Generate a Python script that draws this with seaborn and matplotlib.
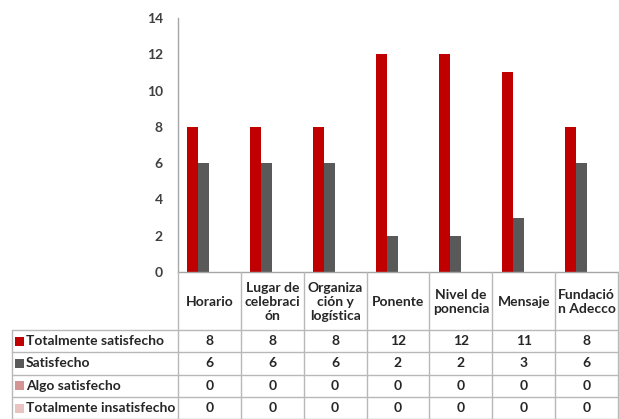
import matplotlib
matplotlib.use("Agg")
import matplotlib.pyplot as plt
from matplotlib.lines import Line2D
from matplotlib.patches import Rectangle
from matplotlib.transforms import blended_transform_factory
import seaborn as sns
import pandas as pd

categories = ["Horario", "Lugar de\ncelebraci\nón", "Organiza\nción y\nlogística",
              "Ponente", "Nivel de\nponencia", "Mensaje", "Fundació\nn Adecco"]
series = ["Totalmente satisfecho", "Satisfecho", "Algo satisfecho", "Totalmente insatisfecho"]
totalmente_satisfecho = [8, 8, 8, 12, 12, 11, 8]
satisfecho = [6, 6, 6, 2, 2, 3, 6]
algo_satisfecho = [0, 0, 0, 0, 0, 0, 0]
totalmente_insatisfecho = [0, 0, 0, 0, 0, 0, 0]
colors = ["#C00000", "#595959", "#D39593", "#E9C3C2"]

values = [totalmente_satisfecho, satisfecho, algo_satisfecho, totalmente_insatisfecho]
rows = []
for s, vals in zip(series, values):
    for c, v in zip(categories, vals):
        rows.append({"Categoría": c, "Serie": s, "Valor": v})
df = pd.DataFrame(rows)

sns.set_style("white")
plt.rcParams["font.family"] = ["Lato", "DejaVu Sans"]

W, H = 619, 419
fig = plt.figure(figsize=(W / 100, H / 100), dpi=100)
ax = fig.add_axes([178 / W, (H - 272) / H, (618 - 178) / W, (272 - 18) / H])

sns.barplot(data=df, x="Categoría", y="Valor", hue="Serie", hue_order=series,
            order=categories, palette=colors, width=0.7, saturation=1,
            legend=False, ax=ax, edgecolor="none")

ax.set_ylim(0, 14)
ax.set_xlim(-0.5, len(categories) - 0.5)
ax.set_yticks(range(0, 15, 2))
ax.set_xticks([])
ax.set_xlabel("")
ax.set_ylabel("")
for side in ("top", "right"):
    ax.spines[side].set_visible(False)
for side in ("left", "bottom"):
    ax.spines[side].set_color("#a6a6a6")
    ax.spines[side].set_linewidth(1.0)
ax.tick_params(axis="y", length=0, pad=11, labelsize=10, labelcolor="#404040")
for lbl in ax.get_yticklabels():
    lbl.set_fontweight("bold")

# data table under the chart
grid = "#b8b8b8"
txt = "#262626"
fs = 10
tx = blended_transform_factory(ax.transData, fig.transFigure)
fig_tr = fig.transFigure


def fy(p):
    return 1 - p / H


header_top, header_bot = 272, 330
row_h = 22.3
n = len(categories)

# vertical separators between categories
for i in range(n + 1):
    x = i - 0.5
    fig.add_artist(Line2D([x, x], [fy(header_top), fy(H)], transform=tx,
                          color=grid, lw=1, clip_on=False))
# label column left edge
fig.add_artist(Line2D([12 / W, 12 / W], [fy(header_bot), fy(H)], transform=fig_tr,
                      color=grid, lw=1, clip_on=False))
# horizontal row lines
for r in range(len(series) + 1):
    y = header_bot + r * row_h
    fig.add_artist(Line2D([12 / W, 1], [fy(y), fy(y)], transform=fig_tr,
                          color=grid, lw=1, clip_on=False))

# header cells
for i, c in enumerate(categories):
    fig.text(i, fy((header_top + header_bot) / 2 + 1), c, transform=tx,
             ha="center", va="center", fontsize=fs, fontweight="bold",
             color=txt, linespacing=1.2)

# value rows with legend keys
for r, (s, vals, col) in enumerate(zip(series, values, colors)):
    yc = header_bot + (r + 0.5) * row_h
    fig.add_artist(Rectangle((15 / W, fy(yc + 4.5)), 9 / W, 9 / H,
                             transform=fig_tr, facecolor=col, edgecolor="none"))
    fig.text(26 / W, fy(yc), s, transform=fig_tr, ha="left", va="center",
             fontsize=fs, fontweight="bold", color=txt)
    for i, v in enumerate(vals):
        fig.text(i, fy(yc), str(v), transform=tx, ha="center", va="center",
                 fontsize=fs, fontweight="bold", color=txt)

fig.savefig("out.png", dpi=100)
